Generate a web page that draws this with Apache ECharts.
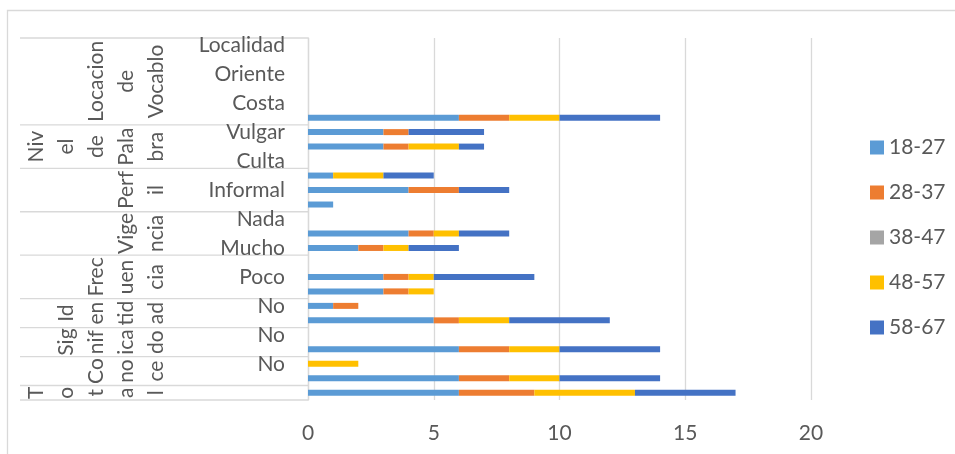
<!DOCTYPE html>
<html>
<head>
<meta charset="utf-8">
<title>Edad por categoría</title>
<script src="https://cdn.jsdelivr.net/npm/echarts@6/dist/echarts.min.js"></script>
<style>
  html, body { margin: 0; padding: 0; background: #ffffff; }
  #chart { width: 955px; height: 454px; }
</style>
</head>
<body>
<div id="chart"></div>
<script>
// Inner category labels, top to bottom (every other row carries a label)
const categories = [
  'Localidad', '', 'Oriente', '', 'Costa', '',
  'Vulgar', '', 'Culta',
  '', 'Informal', '',
  'Nada', '', 'Mucho',
  '', 'Poco', '',
  'No', '',
  'No', '',
  'No', '',
  ''
];

// Outer groups (text as wrapped in the narrow rotated cells) and how many rows each spans
const groupLines = [
  ['Locacion', 'de', 'Vocablo'],
  ['Niv', 'el', 'de', 'Pala', 'bra'],
  ['Perf', 'il'],
  ['Vige', 'ncia'],
  ['Frec', 'uen', 'cia'],
  ['Id', 'en', 'tid', 'ad'],
  ['Sig', 'nif', 'ica', 'do'],
  ['Co', 'no', 'ce'],
  ['T', 'o', 't', 'a', 'l']
];
const groupSizes = [6, 3, 3, 3, 3, 2, 2, 2, 1];

const seriesNames = ['18-27', '28-37', '38-47', '48-57', '58-67'];
const v18_27 = [0, 0, 0, 0, 0, 6, 3, 3, 0, 1, 4, 1, 0, 4, 2, 0, 3, 3, 1, 5, 0, 6, 0, 6, 6];
const v28_37 = [0, 0, 0, 0, 0, 2, 1, 1, 0, 0, 2, 0, 0, 1, 1, 0, 1, 1, 1, 1, 0, 2, 0, 2, 3];
const v38_47 = [0, 0, 0, 0, 0, 0, 0, 0, 0, 0, 0, 0, 0, 0, 0, 0, 0, 0, 0, 0, 0, 0, 0, 0, 0];
const v48_57 = [0, 0, 0, 0, 0, 2, 0, 2, 0, 2, 0, 0, 0, 1, 1, 0, 1, 1, 0, 2, 0, 2, 2, 2, 4];
const v58_67 = [0, 0, 0, 0, 0, 4, 3, 1, 0, 2, 2, 0, 0, 2, 2, 0, 4, 0, 0, 4, 0, 4, 0, 4, 4];

const xTicks = { min: 0, max: 20, interval: 5 };

const colors = ['#5B9BD5', '#ED7D31', '#A5A5A5', '#FFC000', '#4472C4'];
const values = [v18_27, v28_37, v38_47, v48_57, v58_67];

const FONT = 'Lato, "Open Sans", sans-serif';
const TEXT = '#595959';
const LINE = '#D9D9D9';

const chart = echarts.init(document.getElementById('chart'), null, { renderer: 'canvas' });

const option = {
  animation: false,
  backgroundColor: '#ffffff',
  color: colors,
  grid: { left: 308, right: 144, top: 38, bottom: 54, containLabel: false },
  legend: {
    orient: 'vertical',
    left: 865,
    top: 132,
    icon: 'rect',
    itemWidth: 14,
    itemHeight: 14,
    itemGap: 24,
    textStyle: { fontFamily: FONT, fontSize: 21, color: TEXT, lineHeight: 21 },
    data: seriesNames
  },
  xAxis: {
    type: 'value',
    min: xTicks.min,
    max: xTicks.max,
    interval: xTicks.interval,
    axisLine: { show: false },
    axisTick: { show: false },
    axisLabel: { fontFamily: FONT, fontSize: 21, color: TEXT, margin: 23 },
    splitLine: { show: true, lineStyle: { color: LINE, width: 1.3 } }
  },
  yAxis: {
    type: 'category',
    inverse: true,
    data: categories,
    axisLine: { show: true, lineStyle: { color: LINE, width: 1.3 } },
    axisTick: { show: false },
    axisLabel: {
      interval: 0,
      fontFamily: FONT,
      fontSize: 21,
      color: TEXT,
      margin: 23
    },
    splitLine: { show: false }
  },
  series: seriesNames.map((name, i) => ({
    name: name,
    type: 'bar',
    stack: 'edad',
    barWidth: 6,
    data: values[i],
    itemStyle: { color: colors[i] }
  }))
};

chart.setOption(option);

// Multi-level category axis: separators and rotated group captions
function drawGroups() {
  const c0 = chart.convertToPixel({ yAxisIndex: 0 }, 0);
  const c1 = chart.convertToPixel({ yAxisIndex: 0 }, 1);
  const band = c1 - c0;
  const axisX = chart.convertToPixel({ xAxisIndex: 0 }, 0);
  const leftX = 20;
  const lastLineX = 156;
  const lineStep = 30;

  const elements = [];
  // outer frame of the chart area
  elements.push({
    type: 'rect',
    shape: { x: 7.5, y: 10.5, width: 1000, height: 500 },
    style: { fill: 'none', stroke: LINE, lineWidth: 1.3 },
    silent: true
  });

  let start = 0;
  const firstTop = c0 - band / 2;
  elements.push({
    type: 'line',
    shape: { x1: leftX, y1: firstTop, x2: axisX, y2: firstTop },
    style: { stroke: LINE, lineWidth: 1.3 },
    silent: true
  });
  groupSizes.forEach((size, g) => {
    const top = chart.convertToPixel({ yAxisIndex: 0 }, start) - band / 2;
    const bottom = chart.convertToPixel({ yAxisIndex: 0 }, start + size - 1) + band / 2;
    elements.push({
      type: 'line',
      shape: { x1: leftX, y1: bottom, x2: axisX, y2: bottom },
      style: { stroke: LINE, lineWidth: 1.3 },
      silent: true
    });
    const lines = groupLines[g];
    const mid = (top + bottom) / 2;
    lines.forEach((txt, j) => {
      const x = lastLineX - (lines.length - 1 - j) * lineStep;
      elements.push({
        type: 'text',
        x: x,
        y: mid,
        rotation: Math.PI / 2,
        style: {
          text: txt,
          fontFamily: FONT,
          fontSize: 21,
          fill: TEXT,
          align: 'center',
          verticalAlign: 'middle'
        },
        silent: true
      });
    });
    start += size;
  });

  chart.setOption({ graphic: { elements: elements } });
}

drawGroups();
</script>
</body>
</html>
